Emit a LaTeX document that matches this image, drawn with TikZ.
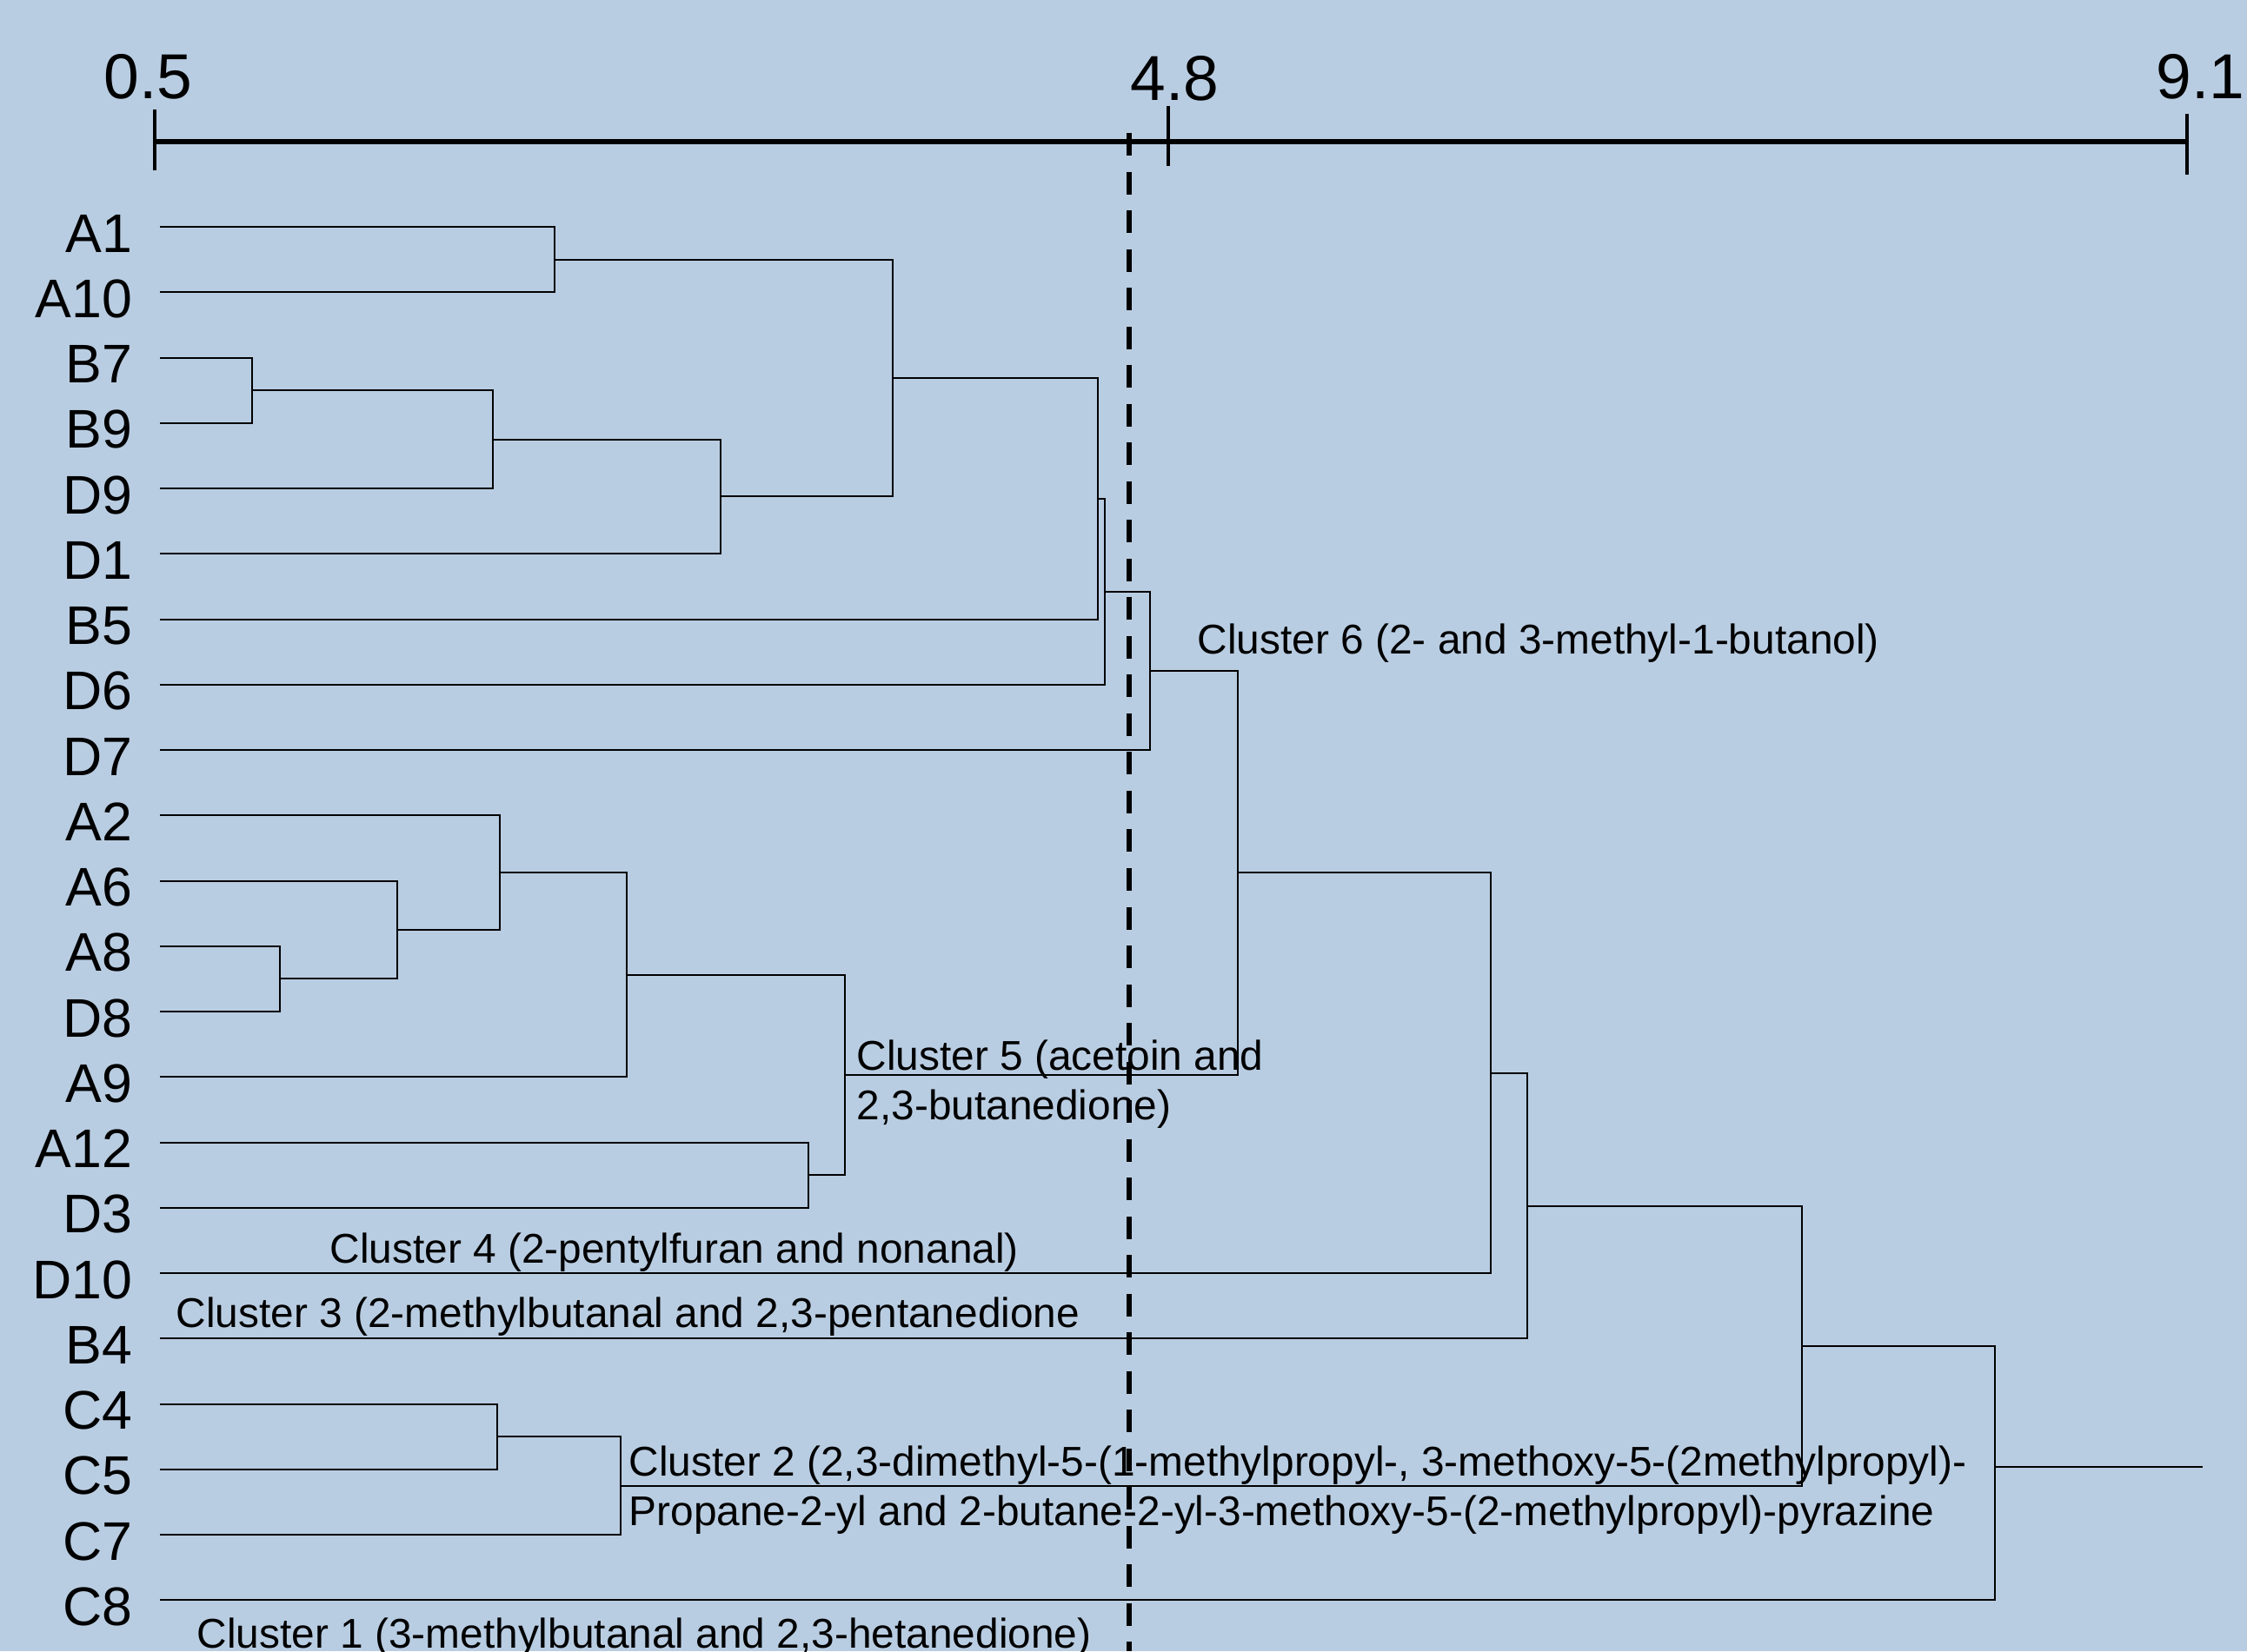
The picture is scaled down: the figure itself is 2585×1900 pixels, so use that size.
\documentclass[tikz,border=0pt]{standalone}
\usepackage{fontspec}
\setmainfont{Liberation Sans}
\definecolor{bgblue}{RGB}{185,205,226}
\begin{document}
\begin{tikzpicture}[x=0.01cm,y=-0.01cm,
  dend/.style={line width=0.02cm,black},
  axisline/.style={line width=0.05cm,black},
  tickmark/.style={line width=0.04cm,black},
  cutline/.style={line width=0.06cm,black,dash pattern=on 0.26cm off 0.185cm},
  leaflab/.style={anchor=base east,inner sep=0pt,font=\fontsize{17.8}{20}\selectfont},
  axlab/.style={anchor=base west,inner sep=0pt,font=\fontsize{20.8}{24}\selectfont},
  clab/.style={anchor=base west,inner sep=0pt,font=\fontsize{13.6}{16}\selectfont}]
\useasboundingbox (0,0) rectangle (2585,1900);
\fill[bgblue] (0,0) rectangle (2585,1900);
% leaves
\foreach \n [count=\i from 0] in {A1,A10,B7,B9,D9,D1,B5,D6,D7,A2,A6,A8,D8,A9,A12,D3,D10,B4,C4,C5,C7,C8}{
  \coordinate (\n) at (184,{261+75.25*\i});
  \node[leaflab] (l\n) at (153,{290+75.25*\i}) {\n};
}
% merge points
\coordinate (m1) at (638,298.6);
\coordinate (m2) at (290,449.1);
\coordinate (m3) at (567,505.5);
\coordinate (m4) at (829,571.4);
\coordinate (m5) at (1027,435);
\coordinate (m6) at (1263,573.75);
\coordinate (m7) at (1271,680.75);
\coordinate (m8) at (1323,771.9);
\coordinate (n1) at (322,1126.4);
\coordinate (n2) at (457,1069.9);
\coordinate (n3) at (575,1004.1);
\coordinate (n4) at (721,1121.7);
\coordinate (n5) at (930,1352.1);
\coordinate (n6) at (972,1236.9);
\coordinate (n7) at (1424,1004.4);
\coordinate (n8) at (1715,1234.7);
\coordinate (n9) at (1757,1387.5);
\coordinate (c1) at (572,1653.1);
\coordinate (c2) at (714,1709.6);
\coordinate (r1) at (2073,1548.5);
\coordinate (r2) at (2295,1688);
\coordinate (rootend) at (2534,1688);
% dendrogram
\draw[dend] (A1) -| (m1) |- (A10);
\draw[dend] (B7) -| (m2) |- (B9);
\draw[dend] (m2) -| (m3) |- (D9);
\draw[dend] (m3) -| (m4) |- (D1);
\draw[dend] (m1) -| (m5) |- (m4);
\draw[dend] (m5) -| (m6) |- (B5);
\draw[dend] (m6) -| (m7) |- (D6);
\draw[dend] (m7) -| (m8) |- (D7);
\draw[dend] (A8) -| (n1) |- (D8);
\draw[dend] (A6) -| (n2) |- (n1);
\draw[dend] (A2) -| (n3) |- (n2);
\draw[dend] (n3) -| (n4) |- (A9);
\draw[dend] (A12) -| (n5) |- (D3);
\draw[dend] (n4) -| (n6) |- (n5);
\draw[dend] (m8) -| (n7) |- (n6);
\draw[dend] (n7) -| (n8) |- (D10);
\draw[dend] (n8) -| (n9) |- (B4);
\draw[dend] (C4) -| (c1) |- (C5);
\draw[dend] (c1) -| (c2) |- (C7);
\draw[dend] (n9) -| (r1) |- (c2);
\draw[dend] (r1) -| (r2) |- (C8);
\draw[dend] (r2) -- (rootend);
% cluster labels
\node[clab] (cl6) at (1377,752) {Cluster 6 (2- and 3-methyl-1-butanol)};
\node[clab] (cl5a) at (985,1231) {Cluster 5 (acetoin and};
\node[clab] (cl5b) at (985,1288) {2,3-butanedione)};
\node[clab] (cl4) at (379,1453) {Cluster 4 (2-pentylfuran and nonanal)};
\node[clab] (cl3) at (202,1527) {Cluster 3 (2-methylbutanal and 2,3-pentanedione};
\node[clab] (cl2a) at (723,1698) {Cluster 2 (2,3-dimethyl-5-(1-methylpropyl-, 3-methoxy-5-(2methylpropyl)-};
\node[clab] (cl2b) at (723,1755) {Propane-2-yl and 2-butane-2-yl-3-methoxy-5-(2-methylpropyl)-pyrazine};
\node[clab] (cl1) at (226,1896) {Cluster 1 (3-methylbutanal and 2,3-hetanedione)};
% axis
\coordinate (t05) at (178,163);
\coordinate (t48) at (1344,163);
\coordinate (t91) at (2516,163);
\draw[axisline] (t05) -- (t91);
\draw[tickmark] (178,126) -- (178,196);
\draw[tickmark] (1344,122) -- (1344,191);
\draw[tickmark] (2516,131) -- (2516,201);
\node[axlab] (a05) at (119,114) {0.5};
\node[axlab] (a48) at (1300,116) {4.8};
\node[axlab] (a91) at (2480,114) {9.1};
% cut-off line
\coordinate (cutT) at (1299,153);
\coordinate (cutB) at (1299,1900);
\draw[cutline] (cutT) -- (cutB);
\end{tikzpicture}
\end{document}
